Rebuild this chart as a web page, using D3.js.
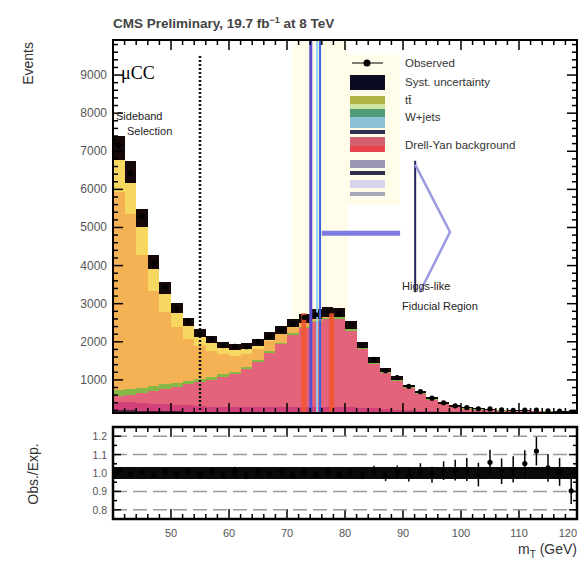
<!DOCTYPE html>
<html><head><meta charset="utf-8">
<script src="https://cdn.jsdelivr.net/npm/d3@7"></script>
<style>body{margin:0;background:#fff}svg{display:block;font-family:"Liberation Sans",Arial,sans-serif}</style>
</head><body><svg id="c" width="581" height="563"></svg>
<script>
// ---------- data ----------
const binLow = [40,42,44,46,48,50,52,54,56,58,60,62,64,66,68,70,72,74,76,78,80,82,84,86,88,90,92,94,96,98,100,102,104,106,108,110,112,114,116,118];
const binWidth = 2;
const lavender = [120,120,115,115,110,110,105,105,100,100,100,100,100,100,100,100,100,100,100,100,95,95,90,90,85,85,80,80,75,75,70,70,70,65,65,65,60,60,60,60];
const darkPurple = [80,80,75,75,70,70,65,65,60,60,60,60,60,60,60,60,60,60,60,60,55,55,50,50,45,45,40,40,35,35,30,30,30,30,28,28,26,26,25,25];
const magenta = [220,210,200,190,180,170,160,150,140,140,140,140,140,140,140,140,140,140,140,140,130,120,110,100,90,80,70,60,55,50,45,42,40,38,36,35,34,33,32,31];
const signalW = [150,200,260,330,400,470,550,620,700,780,850,975,1160,1395,1630,1875,2060,2217,2299,2306,2013,1530,1167,934,758,570,440,304,198,128,98,80,68,60,56,54,52,50,48,47];
const green = [160,150,140,130,120,110,100,90,80,75,70,65,60,55,50,45,40,38,36,34,32,30,28,26,24,22,20,18,16,14,12,11,10,10,9,9,8,8,8,8];
const orange = [5200,4600,3500,2500,1900,1450,1100,850,680,520,420,350,300,260,220,180,150,120,100,90,80,60,50,40,32,26,20,15,10,8,6,5,4,4,3,3,3,2,2,2];
const yellow = [1160,1100,960,760,630,510,440,350,290,245,220,200,170,140,110,90,70,55,45,40,35,30,25,20,16,12,10,8,6,5,4,4,3,3,3,2,2,2,2,2];
const observed = [7160,6420,5290,4060,3440,2870,2540,2210,2070,1900,1880,1870,2010,2140,2330,2470,2640,2710,2800,2750,2460,1900,1540,1240,1060,830,690,520,400,320,270,240,238,212,204,206,207,186,178,158];
const yTicks = [1000,2000,3000,4000,5000,6000,7000,8000,9000];
const xTicks = [50,60,70,80,90,100,110,120];
const ratioTicks = [0.8,0.9,1.0,1.1,1.2];
const relUnc = 0.045;
const ratioUnc = 0.03;

const layers = ["lavender","darkPurple","magenta","signalW","green","orange","yellow"];
const layerColors = {lavender:"#efcdea", darkPurple:"#4a2140", magenta:"#d2407a", signalW:"#e2637a", green:"#86b848", orange:"#f4b255", yellow:"#f6d860"};

const legendEntries = [
  {label:"Observed", type:"dot", y:63},
  {label:"Syst. uncertainty", type:"box", color:"#0b0b22", y0:75, y1:90, ty:86},
  {label:"tt\u0304", type:"box", color:"#b0b445", y0:96, y1:104, ty:104},
  {label:"", type:"box", color:"#cfe6a2", y0:104, y1:109},
  {label:"W+jets", type:"box", color:"#4f9a78", y0:109, y1:117, ty:121},
  {label:"", type:"box", color:"#8cc0d6", y0:117, y1:128},
  {label:"", type:"box", color:"#2e2e4f", y0:130, y1:134},
  {label:"Drell-Yan background", type:"box", color:"#d2606f", y0:137, y1:146, ty:149},
  {label:"", type:"box", color:"#e8454f", y0:146, y1:152},
  {label:"", type:"box", color:"#9a98b4", y0:160, y1:168},
  {label:"", type:"box", color:"#30304e", y0:171, y1:175},
  {label:"", type:"box", color:"#d6d2ea", y0:180, y1:188},
  {label:"", type:"box", color:"#a8a8b8", y0:192, y1:196}
];

// ---------- build ----------
const svg = d3.select("#c");
const L = 113, R = 577, T = 40, B = 413, RT = 427, RB = 519;
const x = d3.scaleLinear().domain([40,120]).range([L,R]);
const y = d3.scaleLinear().domain([0,9920]).range([418,40]);
const yr = d3.scaleLinear().domain([0.75,1.25]).range([RB,RT]);

const table = binLow.map((b,i)=>({bin:b, lavender:lavender[i], darkPurple:darkPurple[i], magenta:magenta[i], signalW:signalW[i], green:green[i], orange:orange[i], yellow:yellow[i]}));
const stack = d3.stack().keys(layers)(table);
const totals = table.map(d=>layers.reduce((s,k)=>s+d[k],0));

svg.append("defs").append("clipPath").attr("id","mainClip").append("rect").attr("x",L).attr("y",T).attr("width",R-L).attr("height",B-T);
svg.append("defs").append("clipPath").attr("id","ratioClip").append("rect").attr("x",L).attr("y",RT).attr("width",R-L).attr("height",RB-RT);

const main = svg.append("g").attr("clip-path","url(#mainClip)");

// pale signal window
main.append("rect").attr("x",x(71)).attr("y",T).attr("width",x(80.5)-x(71)).attr("height",B-T).attr("fill","#fffdea");

// stacked histogram
stack.forEach(layer=>{
  main.append("g").selectAll("rect").data(layer).join("rect")
    .attr("x",(d,i)=>x(binLow[i])).attr("width",(d,i)=>x(binLow[i]+binWidth)-x(binLow[i]))
    .attr("y",d=>y(d[1])).attr("height",d=>Math.max(0,y(d[0])-y(d[1])))
    .attr("fill",layerColors[layer.key]).attr("shape-rendering","crispEdges");
});

// uncertainty band
main.append("g").selectAll("rect").data(totals).join("rect")
  .attr("x",(d,i)=>x(binLow[i])).attr("width",(d,i)=>x(binLow[i]+binWidth)-x(binLow[i]))
  .attr("y",d=>y(d*(1+relUnc))).attr("height",d=>y(d*(1-relUnc))-y(d*(1+relUnc)))
  .attr("fill","#140808").attr("shape-rendering","crispEdges");

// dotted sideband boundary
main.append("line").attr("x1",x(55)).attr("x2",x(55)).attr("y1",y(9500)).attr("y2",B)
  .attr("stroke","#111").attr("stroke-width",2.5).attr("stroke-dasharray","2,2");

// window lines
[72.9,77.7].forEach(v=>main.append("line").attr("x1",x(v)).attr("x2",x(v)).attr("y1",y(2750)).attr("y2",B)
  .attr("stroke","#f2552c").attr("stroke-width",5).attr("opacity",0.85));
main.append("line").attr("x1",x(74.1)).attr("x2",x(74.1)).attr("y1",T).attr("y2",B).attr("stroke","#5b4fd0").attr("stroke-width",3);
main.append("line").attr("x1",x(75.2)).attr("x2",x(75.2)).attr("y1",T).attr("y2",B).attr("stroke","#8fd0f0").attr("stroke-width",2);
main.append("line").attr("x1",x(75.7)).attr("x2",x(75.7)).attr("y1",T).attr("y2",B).attr("stroke","#3a62d8").attr("stroke-width",2);

// data points
const dg = main.append("g");
observed.forEach((v,i)=>{
  const cx = x(binLow[i]+binWidth/2), e = Math.sqrt(v);
  dg.append("line").attr("x1",cx).attr("x2",cx).attr("y1",y(v+e)).attr("y2",y(v-e)).attr("stroke","#000").attr("stroke-width",1.5);
  dg.append("circle").attr("cx",cx).attr("cy",y(v)).attr("r",2.6).attr("fill","#000");
});

// annotation arrow
main.append("line").attr("x1",x(76)).attr("x2",x(89.5)).attr("y1",y(4850)).attr("y2",y(4850)).attr("stroke","#7d7be2").attr("stroke-width",5);
main.append("line").attr("x1",x(92.1)).attr("x2",x(92.1)).attr("y1",y(6750)).attr("y2",y(3300)).attr("stroke","#22225a").attr("stroke-width",2);
main.append("path").attr("d",d3.line()([[x(92.1),y(6650)],[x(98.1),y(4880)],[x(92.9),y(3300)]])).attr("fill","none").attr("stroke","#9a9ae0").attr("stroke-width",2.5);

// legend
const lg = svg.append("g");
lg.append("rect").attr("x",344).attr("y",55).attr("width",56).attr("height",150).attr("fill","#fffdea");
legendEntries.forEach(e=>{
  if(e.type==="dot"){
    lg.append("circle").attr("cx",367).attr("cy",e.y).attr("r",3.5).attr("fill","#000");
    lg.append("line").attr("x1",352).attr("x2",383).attr("y1",e.y).attr("y2",e.y).attr("stroke","#000").attr("stroke-width",1);
    lg.append("text").attr("x",405).attr("y",e.y+4).attr("font-size",11.5).attr("fill","#333").text(e.label);
  } else {
    lg.append("rect").attr("x",350).attr("y",e.y0).attr("width",35).attr("height",e.y1-e.y0).attr("fill",e.color);
    if(e.label) lg.append("text").attr("x",405).attr("y",e.ty).attr("font-size",11.5).attr("fill","#333").text(e.label);
  }
});

// frames
svg.append("rect").attr("x",L).attr("y",T).attr("width",R-L).attr("height",B-T).attr("fill","none").attr("stroke","#000").attr("stroke-width",2);

// ticks main
const tk = svg.append("g").attr("stroke","#000");
d3.range(200,9900,200).forEach(v=>{
  const major = v%1000===0, len = major?10:5;
  tk.append("line").attr("x1",L).attr("x2",L+len).attr("y1",y(v)).attr("y2",y(v)).attr("stroke-width",1.5);
  tk.append("line").attr("x1",R).attr("x2",R-len).attr("y1",y(v)).attr("y2",y(v)).attr("stroke-width",1.5);
});
d3.range(42,120,2).forEach(v=>{
  const major = v%10===0, len = major?10:5;
  [[T,1],[B,-1],[RT,1],[RB,-1]].forEach(([yy,s])=>{
    tk.append("line").attr("x1",x(v)).attr("x2",x(v)).attr("y1",yy).attr("y2",yy+s*len).attr("stroke-width",1.5);
  });
});
svg.append("g").selectAll("text").data(yTicks).join("text")
  .attr("x",L-6).attr("y",d=>y(d)+4).attr("text-anchor","end").attr("font-size",12).attr("fill","#555").text(d=>d);

// ratio panel
const rp = svg.append("g");
ratioTicks.filter(t=>t!==1).forEach(t=>rp.append("line").attr("x1",L).attr("x2",R).attr("y1",yr(t)).attr("y2",yr(t))
  .attr("stroke","#9a9a9a").attr("stroke-width",1.5).attr("stroke-dasharray","14,6"));
const rg = rp.append("g").attr("clip-path","url(#ratioClip)");
rg.append("g").selectAll("rect").data(totals).join("rect")
  .attr("x",(d,i)=>x(binLow[i])).attr("width",(d,i)=>x(binLow[i]+binWidth)-x(binLow[i]))
  .attr("y",yr(1+ratioUnc)).attr("height",yr(1-ratioUnc)-yr(1+ratioUnc)).attr("fill","#0a0a0a").attr("shape-rendering","crispEdges");
observed.forEach((v,i)=>{
  const r = v/totals[i], e = Math.sqrt(v)/totals[i], cx = x(binLow[i]+binWidth/2);
  rg.append("line").attr("x1",cx).attr("x2",cx).attr("y1",yr(r+e)).attr("y2",yr(r-e)).attr("stroke","#000").attr("stroke-width",1.5);
  rg.append("circle").attr("cx",cx).attr("cy",yr(r)).attr("r",2.6).attr("fill","#000");
});
rp.append("rect").attr("x",L).attr("y",RT).attr("width",R-L).attr("height",RB-RT).attr("fill","none").attr("stroke","#000").attr("stroke-width",2.5);
d3.range(0.8,1.25,0.05).forEach(v=>{
  const major = Math.abs(v*10-Math.round(v*10))<1e-6, len = major?8:4;
  rp.append("line").attr("x1",L).attr("x2",L+len).attr("y1",yr(v)).attr("y2",yr(v)).attr("stroke","#000").attr("stroke-width",1.5);
  rp.append("line").attr("x1",R).attr("x2",R-len).attr("y1",yr(v)).attr("y2",yr(v)).attr("stroke","#000").attr("stroke-width",1.5);
});
rp.selectAll("text.rt").data(ratioTicks).join("text").attr("class","rt")
  .attr("x",L-6).attr("y",d=>yr(d)+4).attr("text-anchor","end").attr("font-size",10.5).attr("fill","#555").text(d=>d.toFixed(1));
svg.append("g").selectAll("text").data(xTicks).join("text")
  .attr("x",d=>x(d)).attr("y",537).attr("text-anchor",d=>d===120?"end":"middle").attr("font-size",11).attr("fill","#555").text(d=>d);

// texts
svg.append("text").attr("x",113).attr("y",28).attr("font-size",13.5).attr("font-weight","bold").attr("fill","#444")
  .html("CMS Preliminary, 19.7 fb<tspan dy='-5' font-size='9'>\u22121</tspan><tspan dy='5'> at 8 TeV</tspan>");
svg.append("text").attr("x",121).attr("y",79).attr("font-size",18).attr("font-family","Liberation Serif, serif").attr("fill","#000").text("\u03bcCC");
svg.append("text").attr("x",116).attr("y",120).attr("font-size",11).attr("fill","#222").text("Sideband");
svg.append("text").attr("x",127).attr("y",135).attr("font-size",11).attr("fill","#222").text("Selection");
svg.append("text").attr("x",402).attr("y",290).attr("font-size",11).attr("fill","#222").text("Higgs-like");
svg.append("text").attr("x",402).attr("y",310).attr("font-size",11).attr("fill","#222").text("Fiducial Region");
svg.append("text").attr("transform","translate(33,42) rotate(-90)").attr("text-anchor","end").attr("font-size",14).attr("fill","#333").text("Events");
svg.append("text").attr("transform","translate(38,474) rotate(-90)").attr("text-anchor","middle").attr("font-size",14).attr("fill","#333").text("Obs./Exp.");
svg.append("text").attr("x",577).attr("y",554).attr("text-anchor","end").attr("font-size",14).attr("fill","#333")
  .html("m<tspan dy='4' font-size='10'>T</tspan><tspan dy='-4'> (GeV)</tspan>");
</script></body></html>
